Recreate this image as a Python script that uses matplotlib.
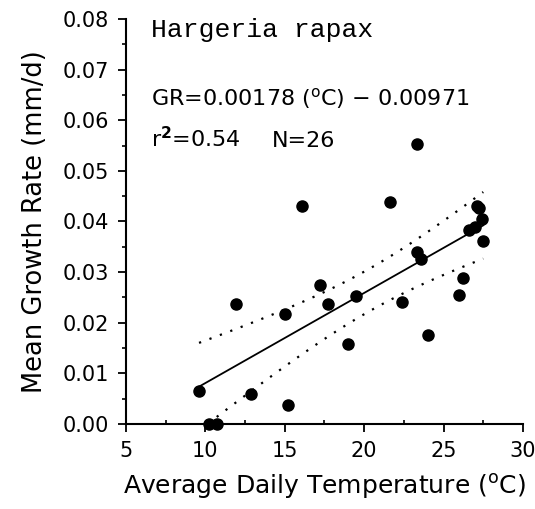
import matplotlib
matplotlib.use("Agg")
import matplotlib.pyplot as plt
from matplotlib.ticker import MultipleLocator
import numpy as np

# data
temp = [9.6, 10.2, 10.7, 11.9, 12.9, 15.0, 15.2, 16.1, 17.2, 17.7, 19.0, 19.5, 21.6,
        22.4, 23.3, 23.3, 23.6, 24.0, 26.0, 26.2, 26.6, 27.0, 27.1, 27.2, 27.4, 27.5]
growth = [0.0065, 0.0, 0.0, 0.0238, 0.0059, 0.0217, 0.0037, 0.0431, 0.0275, 0.0238, 0.0159,
          0.0253, 0.0439, 0.0240, 0.0554, 0.0339, 0.0325, 0.0175, 0.0254, 0.0289, 0.0383,
          0.0390, 0.0431, 0.0426, 0.0405, 0.0361]
slope = 0.00178
intercept = -0.00971

x = np.array(temp)
y = np.array(growth)
n = len(x)

# fitted line and 95% confidence band around it
xf = np.linspace(x.min(), x.max(), 100)
yf = slope * xf + intercept
resid = y - (slope * x + intercept)
s = np.sqrt(np.sum(resid ** 2) / (n - 2))
sxx = np.sum((x - x.mean()) ** 2)
half = 2.064 * s * np.sqrt(1.0 / n + (xf - x.mean()) ** 2 / sxx)

fig = plt.figure(figsize=(5.35, 5.09), dpi=100)
ax = fig.add_axes([0.2355, 0.167, 0.742, 0.7957])

ax.plot(xf, yf, color='black', lw=1.3)
ax.plot(xf, yf + half, color='black', lw=1.6, linestyle=(0, (1, 4)))
ax.plot(xf, yf - half, color='black', lw=1.6, linestyle=(0, (1, 4)))
ax.plot(x, y, 'o', color='black', markersize=8, clip_on=False, zorder=5)

ax.set_xlim(5, 30)
ax.set_ylim(0, 0.08)
ax.xaxis.set_major_locator(MultipleLocator(5))
ax.xaxis.set_minor_locator(MultipleLocator(2.5))
ax.yaxis.set_major_locator(MultipleLocator(0.01))
ax.yaxis.set_minor_locator(MultipleLocator(0.005))
ax.yaxis.set_major_formatter(matplotlib.ticker.FormatStrFormatter('%.2f'))

for side in ['top', 'right']:
    ax.spines[side].set_visible(False)
for side in ['left', 'bottom']:
    ax.spines[side].set_linewidth(1.5)

ax.tick_params(which='major', direction='out', length=6, width=1.3, labelsize=15, pad=6)
ax.tick_params(which='minor', direction='out', length=3, width=1.2)
ax.tick_params(axis='x', which='minor', direction='in')

ax.set_xlabel(r'Average Daily Temperature ($^{\mathrm{o}}$C)', fontsize=18, labelpad=8)
ax.set_ylabel('Mean Growth Rate (mm/d)', fontsize=18.5, labelpad=11)

ax.text(6.6, 0.0764, 'Hargeria rapax', family='Liberation Mono', fontsize=19, va='baseline')
ax.text(6.6, 0.0630, r'GR=0.00178 ($^{\mathrm{o}}$C) $-$ 0.00971', fontsize=16, va='baseline')
ax.text(6.6, 0.0547, r'r$^{\mathbf{2}}$=0.54', fontsize=16, va='baseline')
ax.text(14.2, 0.0547, 'N=26', fontsize=16, va='baseline')

fig.savefig('out.png', dpi=100)
